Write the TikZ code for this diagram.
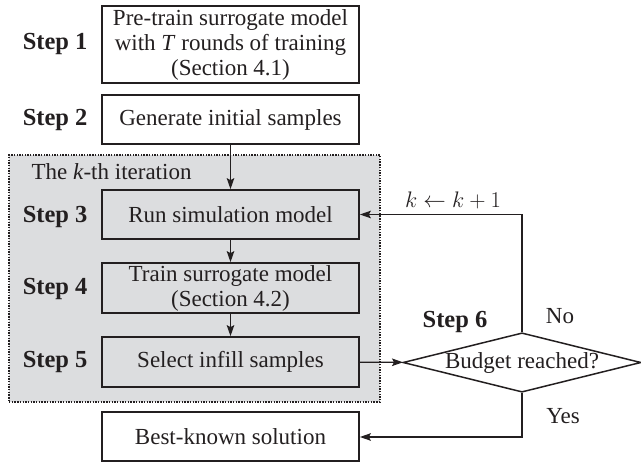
\RequirePackage{fix-cm}
\documentclass[tikz,border=0pt]{standalone}
\usepackage{fontspec}
\setmainfont{Liberation Serif}
\usetikzlibrary{arrows.meta,shapes.geometric}
\definecolor{ink}{HTML}{231F20}
\definecolor{loopfill}{HTML}{DCDDDF}
\begin{document}
\begin{tikzpicture}[x=1pt,y=-1pt,
  every node/.style={text=ink, font=\fontsize{23}{25}\selectfont},
  stepbox/.style={draw=ink, line width=1.7pt, fill=white, minimum width=257pt,
    inner sep=0pt, align=center},
  steplabel/.style={anchor=east, font=\fontsize{24.5}{26}\selectfont\bfseries},
  decision/.style={draw=ink, line width=1.5pt, fill=white, shape=diamond,
    aspect=4, inner sep=0pt, minimum width=238pt, minimum height=59pt},
  flow/.style={draw=ink, line width=1.4pt,
    -{Stealth[length=11pt,width=7.5pt,inset=2pt]}}]
\useasboundingbox (0,0) rectangle (641,466);

% shaded frame around the iterated steps
\node[draw=ink, line width=1.4pt, dash pattern=on 1.4pt off 1.3pt, fill=loopfill,
  minimum width=371pt, minimum height=247pt, inner sep=0pt] (iter) at (194.5,278.5) {};
\node[anchor=west] (itertitle) at (28,172) {The \textit{k}-th iteration};

% process boxes
\node[stepbox, minimum height=77pt] (s1) at (230.5,44.5)
  {Pre-train surrogate model\\with \textit{T} rounds of training\\(Section 4.1)};
\node[stepbox, minimum height=49pt] (s2) at (230.5,119.5) {Generate initial samples};
\node[stepbox, minimum height=49pt, fill=loopfill] (s3) at (230.5,214.5) {Run simulation model};
\node[stepbox, minimum height=50pt, fill=loopfill] (s4) at (230.5,288)
  {Train surrogate model\\(Section 4.2)};
\node[stepbox, minimum height=50pt, fill=loopfill] (s5) at (230.5,362) {Select infill samples};
\node[stepbox, minimum height=49pt] (best) at (230.5,436.5) {Best-known solution};
\node[decision] (dec) at (522,362.5) {Budget reached?};

% step labels
\node[steplabel] (l1) at (91,44) {Step 1};
\node[steplabel] (l2) at (91,120) {Step 2};
\node[steplabel] (l3) at (91,217) {Step 3};
\node[steplabel] (l4) at (91,289) {Step 4};
\node[steplabel] (l5) at (91,362) {Step 5};
\node[font=\fontsize{24.5}{26}\selectfont\bfseries] (l6) at (455,322) {Step 6};

% branch labels
\node (no) at (560,316) {No};
\node (yes) at (563,416) {Yes};
\node[font=\fontsize{22.5}{25}\selectfont] (incr) at (453,200) {$k \leftarrow k+1$};

% connectors
\coordinate (turnup) at (dec.north |- s3.east);
\coordinate (turndown) at (522,437);
\draw[flow] (s2) -- (s3);
\draw[flow] (s3) -- (s4);
\draw[flow] (s4) -- (s5);
\draw[flow] (s5) -- (dec);
\draw[flow] (dec.north) -- (turnup) -- (s3.east);
\draw[flow] (dec.south) -- (turndown) -- (best.east |- turndown);
\end{tikzpicture}
\end{document}
